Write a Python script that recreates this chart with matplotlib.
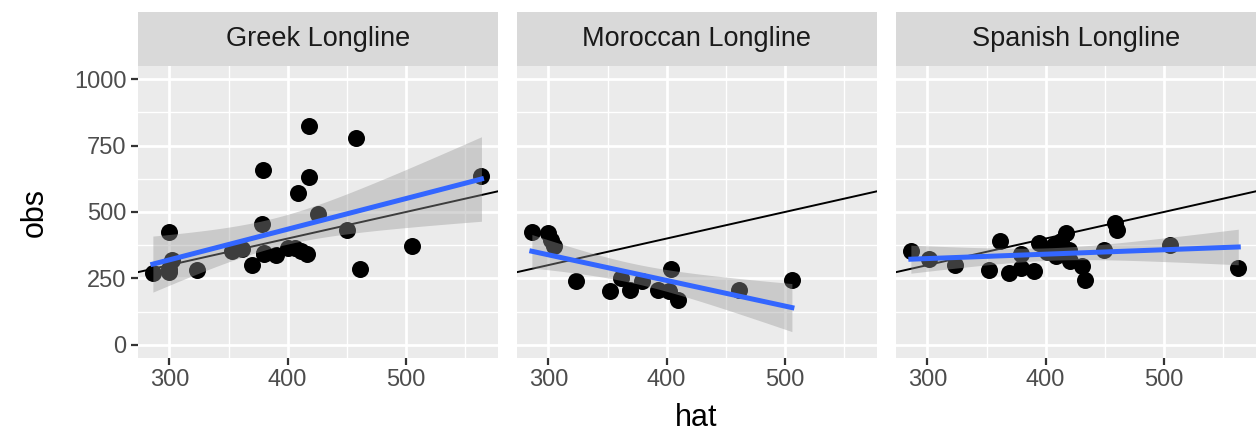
import numpy as np
from matplotlib import pyplot as plt

plt.rcParams['font.family'] = ['Liberation Sans', 'DejaVu Sans']

# panel titles
fleets = ['Greek Longline', 'Moroccan Longline', 'Spanish Longline']

greek_hat = [286, 300, 300, 302, 323, 353, 361, 370, 378, 380, 390, 400, 406, 411, 416,
             379, 418, 418, 409, 426, 450, 458, 461, 505, 564, 380, 300]
greek_obs = [271, 275, 423, 318, 283, 352, 360, 300, 455, 346, 338, 365, 365, 352, 340,
             659, 630, 824, 571, 494, 433, 778, 287, 371, 636, 343, 285]

moroccan_hat = [286, 300, 302, 305, 323, 352, 361, 369, 379, 393, 402, 404, 410, 461, 506]
moroccan_obs = [423, 422, 396, 371, 239, 201, 252, 208, 239, 208, 201, 286, 170, 205, 243]

spanish_hat = [286, 301, 323, 352, 361, 369, 379, 379, 390, 394, 401, 407, 409, 413, 417,
               420, 421, 431, 433, 449, 459, 460, 505, 563]
spanish_obs = [352, 323, 302, 283, 390, 271, 289, 340, 277, 383, 350, 377, 333, 390, 421,
               355, 314, 298, 243, 358, 459, 434, 376, 290]

hats = [greek_hat, moroccan_hat, spanish_hat]
obss = [greek_obs, moroccan_obs, spanish_obs]

xlim = (273, 578)
ylim = (-50, 1050)


def t975(df):
    z = 1.959964
    return z + (z**3 + z) / (4 * df) + (5 * z**5 + 16 * z**3 + 3 * z) / (96 * df**2)


fig = plt.figure(figsize=(12.59, 4.4), dpi=100)
W, H = 1259, 440
left_px = [137.5, 516.5, 895.5]
pw = 360.5
top_px, bot_px, strip_top = 66, 358, 12

for k in range(3):
    x = np.array(hats[k], dtype=float)
    y = np.array(obss[k], dtype=float)

    ax = fig.add_axes([left_px[k] / W, 1 - bot_px / H, pw / W, (bot_px - top_px) / H])
    ax.set_facecolor('#EBEBEB')
    for s in ax.spines.values():
        s.set_visible(False)
    ax.set_xlim(xlim)
    ax.set_ylim(ylim)
    ax.set_xticks([300, 400, 500])
    ax.set_xticks([350, 450, 550], minor=True)
    ax.set_yticks([0, 250, 500, 750, 1000])
    ax.set_yticks([125, 375, 625, 875], minor=True)
    ax.grid(which='major', color='white', lw=2.0)
    ax.grid(which='minor', color='white', lw=1.0)
    ax.set_axisbelow(True)
    ax.tick_params(which='minor', length=0)
    ax.tick_params(which='major', length=5, width=1.6, color='#333333',
                   labelcolor='#4D4D4D', labelsize=17, pad=3)
    if k > 0:
        ax.tick_params(axis='y', which='both', left=False, labelleft=False)

    # points
    ax.scatter(x, y, s=150, color='black', lw=0, zorder=2)

    # 1:1 line
    xx = np.array(xlim)
    ax.plot(xx, xx, color='black', lw=1.4, zorder=3)

    # linear fit with 95% band
    n = len(x)
    b1, b0 = np.polyfit(x, y, 1)
    resid = y - (b0 + b1 * x)
    s2 = np.sum(resid**2) / (n - 2)
    xs = np.linspace(x.min(), x.max(), 80)
    fit = b0 + b1 * xs
    se = np.sqrt(s2 * (1 / n + (xs - x.mean())**2 / np.sum((x - x.mean())**2)))
    tq = t975(n - 2)
    ax.fill_between(xs, fit - tq * se, fit + tq * se, color='#999999', alpha=0.4,
                    lw=0, zorder=4)
    ax.plot(xs, fit, color='#3366FF', lw=3.6, zorder=5)

    # facet strip
    sax = fig.add_axes([left_px[k] / W, 1 - top_px / H, pw / W, (top_px - strip_top) / H])
    sax.set_facecolor('#D9D9D9')
    sax.set_xticks([])
    sax.set_yticks([])
    for s in sax.spines.values():
        s.set_visible(False)
    sax.text(0.5, 0.5, fleets[k], ha='center', va='center', fontsize=19.5,
             color='#1A1A1A', transform=sax.transAxes)

fig.text(35 / W, 1 - 212 / H, 'obs', rotation=90, ha='center', va='center', fontsize=22)
fig.text(696 / W, 1 - 418 / H, 'hat', ha='center', va='center', fontsize=22)

fig.savefig('out.png', dpi=100)
